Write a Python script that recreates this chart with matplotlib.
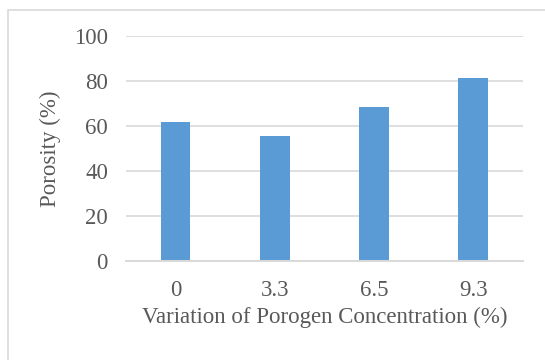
import matplotlib.pyplot as plt
from matplotlib.patches import Rectangle
from matplotlib.ticker import MultipleLocator
import numpy as np

# data
categories = ['0', '3.3', '6.5', '9.3']
porosity = [61.6, 55.4, 68.6, 81.3]

txtcol = '#595959'
gridcol = '#d9d9d9'
barcol = '#5b9bd5'

plt.rcParams['font.family'] = ['Liberation Serif', 'DejaVu Serif']

fig = plt.figure(figsize=(5.45, 3.6), dpi=100)

# chart area border (light grey, runs off right/bottom)
fig.patches.append(Rectangle((8/545, -0.1), 1.2, 1 - 9.5/360 + 0.1,
                             transform=fig.transFigure, fill=False,
                             edgecolor=gridcol, linewidth=1.2))

ax0 = fig.add_axes([126/545, 1 - 261/360, (522.7 - 126)/545, 225/360])

x = np.arange(len(categories))
ax0.bar(x, porosity, width=0.3, color=barcol, zorder=3)

ax0.set_xlim(-0.5, len(categories) - 0.5)
ax0.set_ylim(0, 100)
ax0.yaxis.set_major_locator(MultipleLocator(20))
ax0.set_xticks(x)
ax0.set_xticklabels(categories)

ax0.grid(True, axis='y', color=gridcol, linewidth=1.2, zorder=0)
for s in ['top', 'right', 'left']:
    ax0.spines[s].set_visible(False)
ax0.spines['bottom'].set_color(gridcol)
ax0.spines['bottom'].set_linewidth(1.4)
ax0.spines['bottom'].set_zorder(4)

fs = 16.5
ax0.tick_params(axis='both', length=0, labelsize=fs, labelcolor=txtcol)
ax0.tick_params(axis='y', pad=13)
ax0.tick_params(axis='x', pad=14)

ax0.set_xlabel('Variation of Porogen Concentration (%)', fontsize=fs,
               color=txtcol, labelpad=4)
ax0.set_ylabel('Porosity (%)', fontsize=fs, color=txtcol, labelpad=9)

plt.savefig('out.png', dpi=100)
